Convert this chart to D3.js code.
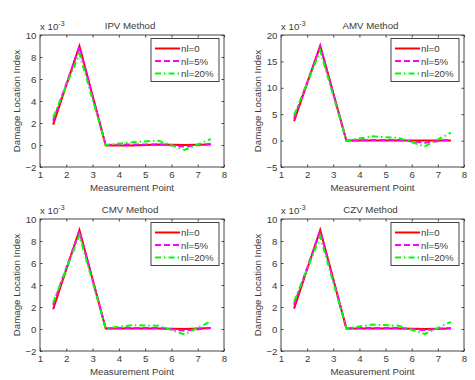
<!DOCTYPE html>
<html><head><meta charset="utf-8">
<script src="https://cdn.jsdelivr.net/npm/d3@7"></script>
<style>
html,body{margin:0;padding:0;background:#fff;}
text{font-family:"Liberation Sans",Arial,sans-serif;fill:#3a3a3a;}
</style></head>
<body><svg id="c" width="475" height="380"></svg>
<script>
const xPoints = [1.5, 2.5, 3.5, 4.5, 5.5, 6.5, 7.5];
const xTicks = [1, 2, 3, 4, 5, 6, 7, 8];
const seriesNames = ["nl=0", "nl=5%", "nl=20%"];
const seriesColors = ["#ff0000", "#ff00ff", "#00ff00"];
const titles = ["IPV Method", "AMV Method", "CMV Method", "CZV Method"];

// values in units of 1e-3
const ipv0  = [1.85, 9.0, -0.05, -0.05, 0.05, 0.0, 0.05];
const ipv5  = [2.2, 8.9, 0.0, 0.05, 0.05, -0.15, 0.1];
const ipv20 = [2.5, 8.3, 0.0, 0.25, 0.4, -0.45, 0.55];

const amv0  = [3.7, 18.0, 0.0, 0.0, 0.0, 0.0, 0.0];
const amv5  = [4.2, 17.8, 0.0, 0.1, 0.1, -0.4, 0.2];
const amv20 = [4.8, 17.0, 0.0, 0.8, 0.5, -1.1, 1.5];

const cmv0  = [1.8, 9.0, 0.05, 0.05, 0.05, 0.0, 0.1];
const cmv5  = [2.2, 8.9, 0.05, 0.1, 0.1, -0.15, 0.1];
const cmv20 = [2.4, 8.5, 0.05, 0.35, 0.3, -0.5, 0.7];

const czv0  = [1.85, 9.0, 0.05, 0.05, 0.05, 0.0, 0.05];
const czv5  = [2.2, 8.9, 0.05, 0.1, 0.1, -0.1, 0.1];
const czv20 = [2.5, 8.4, 0.05, 0.4, 0.3, -0.45, 0.65];

const yTicksSmall = [-2, 0, 2, 4, 6, 8, 10];
const yTicksAmv = [-5, 0, 5, 10, 15, 20];

const panelData = [[ipv0, ipv5, ipv20], [amv0, amv5, amv20], [cmv0, cmv5, cmv20], [czv0, czv5, czv20]];
const panelYTicks = [yTicksSmall, yTicksAmv, yTicksSmall, yTicksSmall];

const boxes = [
  {x0: 40, x1: 224, y0: 35, y1: 167},
  {x0: 281, x1: 464, y0: 35, y1: 167},
  {x0: 40, x1: 224, y0: 219, y1: 351},
  {x0: 281, x1: 464, y0: 219, y1: 351}
];
const dashes = [null, "6,3", "6,3,1.5,3"];
const FS = 9.7;
const fmt = d3.format("d");

const svg = d3.select("#c");

panelData.forEach((series, i) => {
  const b = boxes[i];
  const yt = panelYTicks[i];
  const x = d3.scaleLinear().domain([1, 8]).range([b.x0, b.x1]);
  const y = d3.scaleLinear().domain([yt[0], yt[yt.length - 1]]).range([b.y1, b.y0]);
  const g = svg.append("g");

  // plot lines
  const line = d3.line().x((d, k) => x(xPoints[k])).y(d => y(d));
  series.forEach((vals, s) => {
    g.append("path").datum(vals).attr("d", line)
      .attr("fill", "none").attr("stroke", seriesColors[s])
      .attr("stroke-width", 2)
      .attr("stroke-dasharray", dashes[s]);
  });

  // axes with inward ticks
  const tl = 2.5;
  const gb = g.append("g").attr("transform", `translate(0,${b.y1})`)
    .call(d3.axisBottom(x).tickValues(xTicks).tickFormat(fmt).tickSizeInner(-tl).tickSizeOuter(0).tickPadding(4));
  const gt = g.append("g").attr("transform", `translate(0,${b.y0})`)
    .call(d3.axisTop(x).tickValues(xTicks).tickSizeInner(-tl).tickSizeOuter(0).tickFormat(""));
  const gl = g.append("g").attr("transform", `translate(${b.x0},0)`)
    .call(d3.axisLeft(y).tickValues(yt).tickFormat(fmt).tickSizeInner(-tl).tickSizeOuter(0).tickPadding(4));
  const gr = g.append("g").attr("transform", `translate(${b.x1},0)`)
    .call(d3.axisRight(y).tickValues(yt).tickSizeInner(-tl).tickSizeOuter(0).tickFormat(""));
  [gb, gt, gl, gr].forEach(a => {
    a.select(".domain").remove();
    a.selectAll(".tick line").attr("stroke", "#444");
    a.selectAll("text").attr("font-size", FS).attr("fill", "#3a3a3a")
      .style("font-family", '"Liberation Sans",Arial,sans-serif');
  });
  gl.selectAll("text").attr("x", -3.5);
  gb.selectAll("text").attr("dy", "0.75em");

  // box
  g.append("rect").attr("x", b.x0).attr("y", b.y0)
    .attr("width", b.x1 - b.x0).attr("height", b.y1 - b.y0)
    .attr("fill", "none").attr("stroke", "#444").attr("stroke-width", 1);

  // title
  g.append("text").attr("x", (b.x0 + b.x1) / 2 - 2).attr("y", b.y0 - 6.5)
    .attr("text-anchor", "middle").attr("font-size", FS).text(titles[i]);

  // multiplier
  const m = g.append("text").attr("x", b.x0).attr("y", b.y0 - 5).attr("font-size", FS);
  m.append("tspan").text("x 10");
  m.append("tspan").attr("dy", -4).attr("font-size", 7).text("-3");

  // axis labels
  g.append("text").attr("x", (b.x0 + b.x1) / 2).attr("y", b.y1 + 24)
    .attr("text-anchor", "middle").attr("font-size", FS).text("Measurement Point");
  g.append("text")
    .attr("transform", `translate(${b.x0 - 20},${(b.y0 + b.y1) / 2}) rotate(-90)`)
    .attr("text-anchor", "middle").attr("font-size", FS).text("Damage Location Index");

  // legend
  const lw = 68, lh = 43;
  const lx = b.x1 - 5 - lw, ly = b.y0 + 3.5;
  const lg = g.append("g");
  lg.append("rect").attr("x", lx).attr("y", ly).attr("width", lw).attr("height", lh)
    .attr("fill", "#fff").attr("stroke", "#444").attr("stroke-width", 1);
  seriesNames.forEach((n, s) => {
    const yy = ly + 10 + s * 12.5;
    lg.append("line").attr("x1", lx + 4).attr("x2", lx + 29).attr("y1", yy).attr("y2", yy)
      .attr("stroke", seriesColors[s]).attr("stroke-width", 2)
      .attr("stroke-dasharray", dashes[s]);
    lg.append("text").attr("x", lx + 30).attr("y", yy + 3.5).attr("font-size", FS).text(n);
  });
});
</script></body></html>
